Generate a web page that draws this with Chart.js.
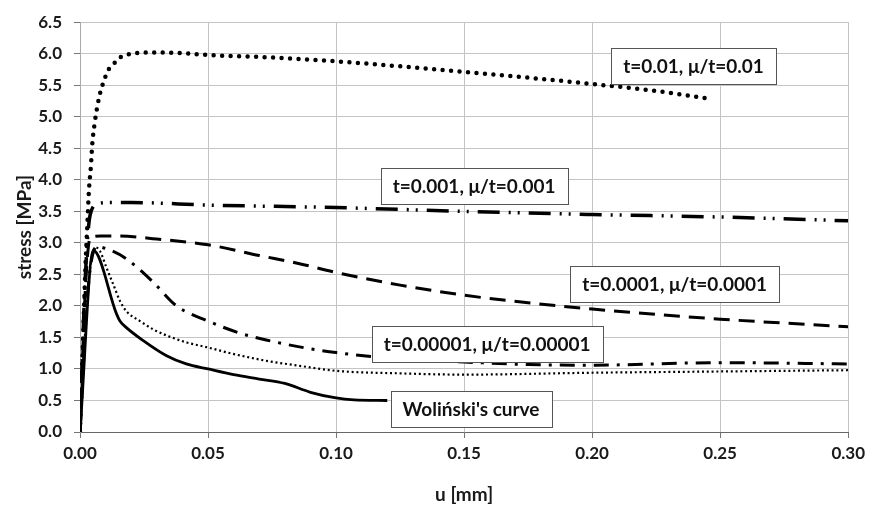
<!DOCTYPE html>
<html lang="en">
<head>
    <meta charset="UTF-8">
    <title>stress vs u</title>
    <script src="https://cdn.jsdelivr.net/npm/chart.js"></script>
    <style>
        body { margin: 0; background: #fff; }
    </style>
</head>
<body>
    <canvas id="stressChart" width="870" height="508"></canvas>

    <script>
        // values: u [mm] and stress [MPa]
        const u1 = [0, 0.0012, 0.0022, 0.0028, 0.0035, 0.0043, 0.0048, 0.0056, 0.0067, 0.0082, 0.0094, 0.0106, 0.013, 0.0156, 0.0188, 0.0221, 0.030, 0.040, 0.05, 0.075, 0.10, 0.125, 0.15, 0.175, 0.20, 0.225, 0.247];
        const s1 = [0, 1.5, 2.7, 3.23, 3.84, 4.24, 4.57, 4.86, 5.15, 5.43, 5.57, 5.71, 5.83, 5.94, 5.99, 6.01, 6.02, 6.01, 5.98, 5.94, 5.88, 5.80, 5.71, 5.62, 5.52, 5.41, 5.28];

        const u2 = [0, 0.002, 0.004, 0.007, 0.012, 0.02, 0.05, 0.10, 0.15, 0.20, 0.25, 0.30];
        const s2 = [0, 2.4, 3.45, 3.62, 3.64, 3.64, 3.60, 3.56, 3.50, 3.45, 3.41, 3.35];

        const u3 = [0, 0.002, 0.004, 0.008, 0.015, 0.03, 0.05, 0.07, 0.0857, 0.10, 0.125, 0.15, 0.175, 0.20, 0.25, 0.30];
        const s3 = [0, 2.2, 3.08, 3.11, 3.11, 3.06, 2.97, 2.80, 2.67, 2.53, 2.33, 2.17, 2.05, 1.95, 1.79, 1.67];

        const u4 = [0, 0.003, 0.0065, 0.012, 0.018, 0.0285, 0.0377, 0.05, 0.0623, 0.0727, 0.0857, 0.10, 0.125, 0.15, 0.175, 0.20, 0.25, 0.30];
        const s4 = [0, 2.2, 2.94, 2.88, 2.75, 2.38, 2.00, 1.76, 1.57, 1.46, 1.35, 1.26, 1.16, 1.11, 1.07, 1.06, 1.10, 1.08];

        const u5 = [0, 0.003, 0.006, 0.0078, 0.0104, 0.013, 0.0156, 0.018, 0.0234, 0.0285, 0.0339, 0.0417, 0.05, 0.0597, 0.0727, 0.0857, 0.10, 0.125, 0.15, 0.20, 0.25, 0.30];
        const s5 = [0, 2.2, 2.93, 2.87, 2.60, 2.34, 2.08, 1.92, 1.76, 1.63, 1.53, 1.42, 1.34, 1.24, 1.13, 1.05, 0.97, 0.93, 0.91, 0.94, 0.96, 0.98];

        const uW = [0, 0.0052, 0.0143, 0.0156, 0.018, 0.0247, 0.0338, 0.0415, 0.05, 0.06, 0.07, 0.08, 0.09, 0.10, 0.107, 0.12];
        const sW = [0, 2.88, 1.87, 1.76, 1.66, 1.45, 1.21, 1.08, 1.00, 0.91, 0.84, 0.77, 0.63, 0.54, 0.51, 0.50];

        const curveNames = ['t=0.01, \u03bc/t=0.01', 't=0.001, \u03bc/t=0.001', 't=0.0001, \u03bc/t=0.0001', 't=0.00001, \u03bc/t=0.00001', "Woli\u0144ski's curve"];

        // where the boxed captions sit (data units)
        const notes = [
            { text: curveNames[0], u: 0.2396, s: 5.81 },
            { text: curveNames[1], u: 0.1539, s: 3.90 },
            { text: curveNames[2], u: 0.2322, s: 2.35 },
            { text: curveNames[3], u: 0.1590, s: 1.39 },
            { text: curveNames[4], u: 0.1527, s: 0.36 }
        ];

        const pts = (xs, ys) => xs.map((x, i) => ({ x: x, y: ys[i] }));

        const boxLabels = {
            id: 'boxLabels',
            afterDatasetsDraw(chart) {
                const { ctx, scales: { x, y } } = chart;
                ctx.save();
                ctx.font = 'bold 19px Lato';
                ctx.textAlign = 'center';
                ctx.textBaseline = 'middle';
                notes.forEach(n => {
                    const cx = x.getPixelForValue(n.u);
                    const cy = y.getPixelForValue(n.s);
                    const w = Math.round(ctx.measureText(n.text).width + 24);
                    const h = 36;
                    const left = Math.round(cx - w / 2) + 0.5;
                    const top = Math.round(cy - h / 2) + 0.5;
                    ctx.fillStyle = '#fff';
                    ctx.fillRect(left, top, w, h);
                    ctx.strokeStyle = '#555';
                    ctx.lineWidth = 1;
                    ctx.strokeRect(left, top, w, h);
                    ctx.fillStyle = '#111';
                    ctx.fillText(n.text, cx, cy + 1);
                });
                ctx.restore();
            }
        };

        const line = (name, xs, ys, width, dash, cap) => ({
            label: name,
            data: pts(xs, ys),
            showLine: true,
            borderColor: '#000',
            borderWidth: width,
            borderDash: dash,
            borderCapStyle: cap || 'butt',
            pointRadius: 0,
            cubicInterpolationMode: 'monotone'
        });

        const tickFont = { family: 'Lato', size: 17, weight: 'bold' };
        const titleFont = { family: 'Lato', size: 19, weight: 'bold' };

        new Chart(document.getElementById('stressChart'), {
            type: 'scatter',
            data: {
                datasets: [
                    line(curveNames[0], u1, s1, 4.5, [0, 8.5], 'round'),
                    line(curveNames[1], u2, s2, 3.5, [22, 9, 2, 7, 2, 9]),
                    line(curveNames[2], u3, s3, 3, [16, 9]),
                    line(curveNames[3], u4, s4, 3, [15, 8, 3, 8]),
                    line('fine dotted', u5, s5, 2.2, [2, 2.8]),
                    line(curveNames[4], uW, sW, 2.8, [])
                ]
            },
            options: {
                responsive: false,
                animation: false,
                layout: { padding: { top: 19, right: 20, left: 0, bottom: 0 } },
                plugins: {
                    legend: { display: false },
                    tooltip: { enabled: false }
                },
                scales: {
                    x: {
                        type: 'linear',
                        min: 0,
                        max: 0.30,
                        afterFit: s => { s.height = 76; },
                        ticks: {
                            stepSize: 0.05,
                            padding: 5,
                            color: '#1a1a1a',
                            font: tickFont,
                            callback: v => v.toFixed(2)
                        },
                        grid: { color: '#c4c4c4', tickLength: 6, tickColor: '#777' },
                        border: { color: '#666', width: 1 },
                        title: {
                            display: true,
                            text: 'u [mm]',
                            color: '#1a1a1a',
                            font: titleFont,
                            padding: { top: 0, bottom: 2 }
                        }
                    },
                    y: {
                        min: 0,
                        max: 6.5,
                        afterFit: s => { s.width = 80; },
                        ticks: {
                            stepSize: 0.5,
                            padding: 12,
                            color: '#1a1a1a',
                            font: tickFont,
                            callback: v => v.toFixed(1)
                        },
                        grid: { color: '#c4c4c4', tickLength: 6, tickColor: '#777' },
                        border: { color: '#aaa', width: 1 },
                        title: {
                            display: true,
                            text: 'stress [MPa]',
                            color: '#1a1a1a',
                            font: titleFont,
                            padding: { top: 13, bottom: 0 }
                        }
                    }
                }
            },
            plugins: [boxLabels]
        });
    </script>
</body>
</html>
